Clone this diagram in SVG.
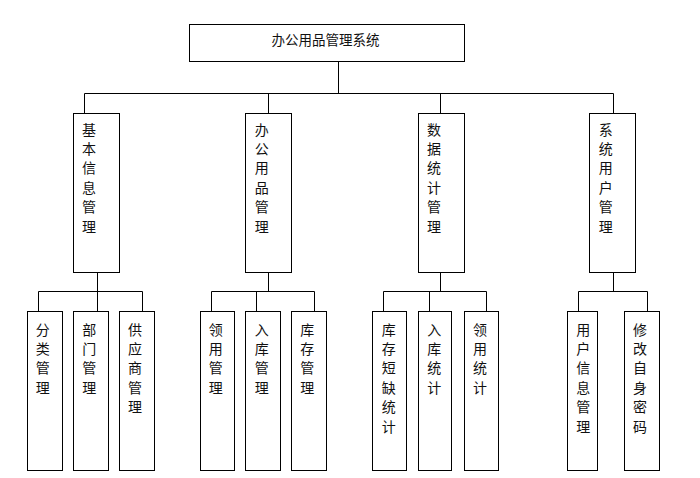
<svg xmlns="http://www.w3.org/2000/svg" width="700" height="478" viewBox="0 0 700 478">
<style>
rect{fill:#fff;stroke:#000;stroke-width:1}
.c line{stroke:#000;stroke-width:1}
text{font-family:"Noto Sans CJK SC","Noto Sans",sans-serif;font-size:14px;fill:#111;text-anchor:middle}
</style>
<rect x="0" y="0" width="700" height="478" style="stroke:none"/>
<g class="c" id="connectors">
<line x1="338.5" y1="62" x2="338.5" y2="93.5"/>
<line x1="84.5" y1="93.5" x2="613.5" y2="93.5"/>
<line x1="84.5" y1="93.5" x2="84.5" y2="113.5"/>
<line x1="268.5" y1="93.5" x2="268.5" y2="113.5"/>
<line x1="440.5" y1="93.5" x2="440.5" y2="113.5"/>
<line x1="613.5" y1="93.5" x2="613.5" y2="113.5"/>
<line x1="97.5" y1="272.5" x2="97.5" y2="311.5"/>
<line x1="38.5" y1="291.5" x2="142.5" y2="291.5"/>
<line x1="38.5" y1="291.5" x2="38.5" y2="311.5"/>
<line x1="142.5" y1="291.5" x2="142.5" y2="311.5"/>
<line x1="268.5" y1="272.5" x2="268.5" y2="291.5"/>
<line x1="211.5" y1="291.5" x2="314.5" y2="291.5"/>
<line x1="211.5" y1="291.5" x2="211.5" y2="311.5"/>
<line x1="256.5" y1="291.5" x2="256.5" y2="311.5"/>
<line x1="314.5" y1="291.5" x2="314.5" y2="311.5"/>
<line x1="440.5" y1="272.5" x2="440.5" y2="291.5"/>
<line x1="383.5" y1="291.5" x2="486.5" y2="291.5"/>
<line x1="383.5" y1="291.5" x2="383.5" y2="311.5"/>
<line x1="429.5" y1="291.5" x2="429.5" y2="311.5"/>
<line x1="486.5" y1="291.5" x2="486.5" y2="311.5"/>
<line x1="613.5" y1="272.5" x2="613.5" y2="291.5"/>
<line x1="578.5" y1="291.5" x2="647.5" y2="291.5"/>
<line x1="578.5" y1="291.5" x2="578.5" y2="311.5"/>
<line x1="647.5" y1="291.5" x2="647.5" y2="311.5"/>
</g>
<g id="root"><rect x="189.5" y="24.5" width="275" height="37"/><text x="325.5" y="45" style="font-size:13.5px">办公用品管理系统</text></g>
<g id="n1"><rect x="73.5" y="113.5" width="46" height="159"/><text y="134.6"><tspan x="89">基</tspan><tspan x="89" dy="19.4">本</tspan><tspan x="89" dy="19.4">信</tspan><tspan x="89" dy="19.4">息</tspan><tspan x="89" dy="19.4">管</tspan><tspan x="89" dy="19.4">理</tspan></text></g>
<g id="n2"><rect x="245.5" y="113.5" width="46" height="159"/><text y="134.6"><tspan x="261.7">办</tspan><tspan x="261.7" dy="19.4">公</tspan><tspan x="261.7" dy="19.4">用</tspan><tspan x="261.7" dy="19.4">品</tspan><tspan x="261.7" dy="19.4">管</tspan><tspan x="261.7" dy="19.4">理</tspan></text></g>
<g id="n3"><rect x="418.5" y="113.5" width="46" height="159"/><text y="134.6"><tspan x="434">数</tspan><tspan x="434" dy="19.4">据</tspan><tspan x="434" dy="19.4">统</tspan><tspan x="434" dy="19.4">计</tspan><tspan x="434" dy="19.4">管</tspan><tspan x="434" dy="19.4">理</tspan></text></g>
<g id="n4"><rect x="589.5" y="113.5" width="46" height="159"/><text y="134.6"><tspan x="605.7">系</tspan><tspan x="605.7" dy="19.4">统</tspan><tspan x="605.7" dy="19.4">用</tspan><tspan x="605.7" dy="19.4">户</tspan><tspan x="605.7" dy="19.4">管</tspan><tspan x="605.7" dy="19.4">理</tspan></text></g>
<g id="s1"><rect x="27.5" y="311.5" width="35" height="159"/><text y="334.6"><tspan x="42.7">分</tspan><tspan x="42.7" dy="19.4">类</tspan><tspan x="42.7" dy="19.4">管</tspan><tspan x="42.7" dy="19.4">理</tspan></text></g>
<g id="s2"><rect x="73.5" y="311.5" width="35" height="159"/><text y="334.6"><tspan x="89.3">部</tspan><tspan x="89.3" dy="19.4">门</tspan><tspan x="89.3" dy="19.4">管</tspan><tspan x="89.3" dy="19.4">理</tspan></text></g>
<g id="s3"><rect x="119.5" y="311.5" width="35" height="159"/><text y="334.6"><tspan x="135">供</tspan><tspan x="135" dy="19.4">应</tspan><tspan x="135" dy="19.4">商</tspan><tspan x="135" dy="19.4">管</tspan><tspan x="135" dy="19.4">理</tspan></text></g>
<g id="s4"><rect x="200.5" y="311.5" width="34" height="159"/><text y="334.6"><tspan x="215.7">领</tspan><tspan x="215.7" dy="19.4">用</tspan><tspan x="215.7" dy="19.4">管</tspan><tspan x="215.7" dy="19.4">理</tspan></text></g>
<g id="s5"><rect x="245.5" y="311.5" width="35" height="159"/><text y="334.6"><tspan x="261.7">入</tspan><tspan x="261.7" dy="19.4">库</tspan><tspan x="261.7" dy="19.4">管</tspan><tspan x="261.7" dy="19.4">理</tspan></text></g>
<g id="s6"><rect x="291.5" y="311.5" width="35" height="159"/><text y="334.6"><tspan x="307.3">库</tspan><tspan x="307.3" dy="19.4">存</tspan><tspan x="307.3" dy="19.4">管</tspan><tspan x="307.3" dy="19.4">理</tspan></text></g>
<g id="s7"><rect x="372.5" y="311.5" width="34" height="159"/><text y="334.6"><tspan x="388.7">库</tspan><tspan x="388.7" dy="19.4">存</tspan><tspan x="388.7" dy="19.4">短</tspan><tspan x="388.7" dy="19.4">缺</tspan><tspan x="388.7" dy="19.4">统</tspan><tspan x="388.7" dy="19.4">计</tspan></text></g>
<g id="s8"><rect x="418.5" y="311.5" width="33" height="159"/><text y="334.6"><tspan x="434.3">入</tspan><tspan x="434.3" dy="19.4">库</tspan><tspan x="434.3" dy="19.4">统</tspan><tspan x="434.3" dy="19.4">计</tspan></text></g>
<g id="s9"><rect x="464.5" y="311.5" width="34" height="159"/><text y="334.6"><tspan x="480">领</tspan><tspan x="480" dy="19.4">用</tspan><tspan x="480" dy="19.4">统</tspan><tspan x="480" dy="19.4">计</tspan></text></g>
<g id="s10"><rect x="567.5" y="311.5" width="30" height="159"/><text y="334.6"><tspan x="583.3">用</tspan><tspan x="583.3" dy="19.4">户</tspan><tspan x="583.3" dy="19.4">信</tspan><tspan x="583.3" dy="19.4">息</tspan><tspan x="583.3" dy="19.4">管</tspan><tspan x="583.3" dy="19.4">理</tspan></text></g>
<g id="s11"><rect x="624.5" y="311.5" width="35" height="159"/><text y="334.6"><tspan x="640">修</tspan><tspan x="640" dy="19.4">改</tspan><tspan x="640" dy="19.4">自</tspan><tspan x="640" dy="19.4">身</tspan><tspan x="640" dy="19.4">密</tspan><tspan x="640" dy="19.4">码</tspan></text></g>
</svg>
